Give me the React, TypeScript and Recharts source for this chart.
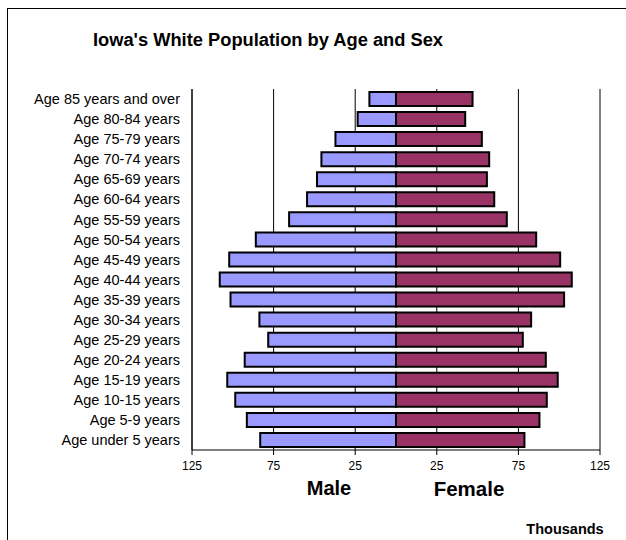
import { BarChart, Bar, XAxis, YAxis, CartesianGrid } from 'recharts';

const ageGroups = [
  'Age 85 years and over',
  'Age 80-84 years',
  'Age 75-79 years',
  'Age 70-74 years',
  'Age 65-69 years',
  'Age 60-64 years',
  'Age 55-59 years',
  'Age 50-54 years',
  'Age 45-49 years',
  'Age 40-44 years',
  'Age 35-39 years',
  'Age 30-34 years',
  'Age 25-29 years',
  'Age 20-24 years',
  'Age 15-19 years',
  'Age 10-15 years',
  'Age 5-9 years',
  'Age under 5 years',
];

// thousands of people
const male = [16.3, 23.5, 37.1, 45.7, 48.4, 54.5, 65.5, 85.9, 102.2, 108.0, 101.4, 83.7, 78.3, 92.7, 103.4, 98.5, 91.4, 83.2];
const female = [46.9, 42.4, 52.6, 57.1, 55.7, 60.2, 67.9, 85.9, 100.6, 107.7, 103.0, 82.8, 77.7, 91.8, 99.1, 92.4, 87.9, 78.7];

const xTicks = [-125, -75, -25, 25, 75, 125];

const data = ageGroups.map((age, i) => ({
  age,
  male: -male[i],
  female: female[i],
}));

const font = '"Liberation Sans", Arial, sans-serif';

export default function App() {
  return (
    <div style={{ position: 'absolute', left: 0, top: 0, width: 626, height: 540, overflow: 'hidden', background: '#fff', fontFamily: font }}>
      <div style={{ position: 'absolute', left: 7, top: 8, width: 660, height: 600, border: '1px solid #000', boxSizing: 'border-box' }} />
      <div style={{ position: 'absolute', left: 0, top: 29, width: 536, textAlign: 'center', fontSize: 18.3, fontWeight: 'bold', color: '#000' }}>
        Iowa's White Population by Age and Sex
      </div>
      <div style={{ position: 'absolute', left: 0, top: 0 }}>
        <BarChart
          width={626}
          height={540}
          data={data}
          layout="vertical"
          stackOffset="sign"
          barCategoryGap={3}
          margin={{ top: 89, right: 26, bottom: 60, left: 0 }}
        >
          <CartesianGrid horizontal={false} stroke="#000" strokeWidth={1} />
          <XAxis
            type="number"
            domain={[-125, 125]}
            ticks={xTicks}
            tickFormatter={(v: number) => String(Math.abs(v))}
            tick={{ fill: '#000', fontSize: 12, fontFamily: font }}
            tickSize={5}
            tickMargin={6}
            stroke="#000"
            height={30}
            interval={0}
          />
          <YAxis
            type="category"
            dataKey="age"
            width={192}
            tick={{ fill: '#000', fontSize: 14.5, fontFamily: font }}
            tickSize={0}
            tickMargin={12}
            stroke="#000"
            interval={0}
          />
          <Bar dataKey="male" stackId="pop" fill="#9999FF" stroke="#000" strokeWidth={2} isAnimationActive={false} />
          <Bar dataKey="female" stackId="pop" fill="#993366" stroke="#000" strokeWidth={2} isAnimationActive={false} />
        </BarChart>
      </div>
      <div style={{ position: 'absolute', left: 279, top: 477, width: 100, textAlign: 'center', fontSize: 20, fontWeight: 'bold' }}>Male</div>
      <div style={{ position: 'absolute', left: 409, top: 477, width: 120, textAlign: 'center', fontSize: 20.5, fontWeight: 'bold' }}>Female</div>
      <div style={{ position: 'absolute', left: 515, top: 521, width: 100, textAlign: 'center', fontSize: 14.5, fontWeight: 'bold' }}>Thousands</div>
    </div>
  );
}
